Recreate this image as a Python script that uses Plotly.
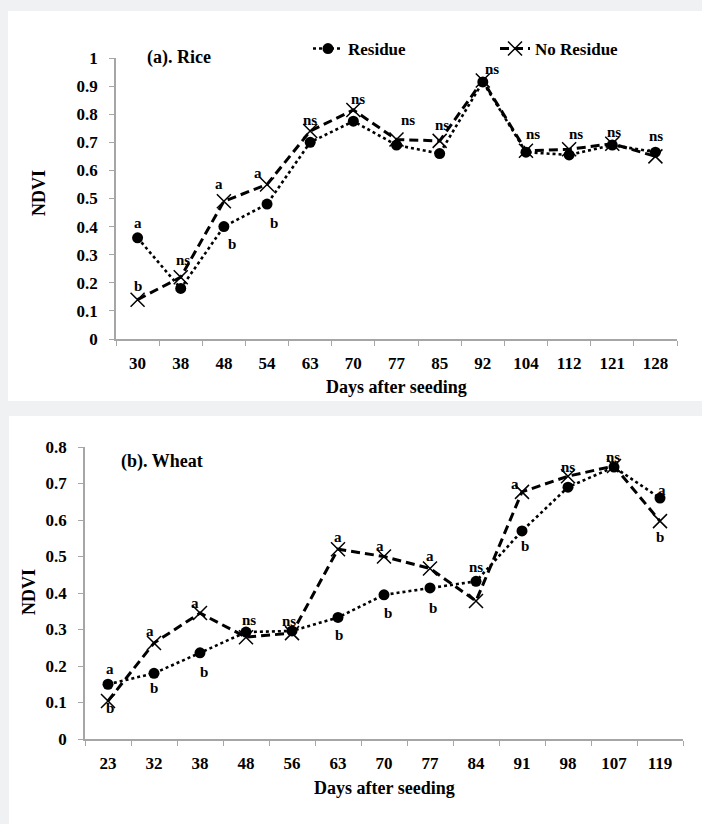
import plotly.graph_objects as go

# ---------------- data ----------------
rice_days = ["30", "38", "48", "54", "63", "70", "77", "85", "92", "104", "112", "121", "128"]
rice_residue = [0.36, 0.18, 0.40, 0.48, 0.70, 0.775, 0.69, 0.66, 0.915, 0.665, 0.655, 0.69, 0.665]
rice_no_residue = [0.14, 0.22, 0.49, 0.55, 0.74, 0.815, 0.71, 0.705, 0.92, 0.67, 0.675, 0.695, 0.65]
rice_residue_letters = ["a", "", "b", "b", "", "", "", "", "", "", "", "", "ns"]
rice_no_residue_letters = ["b", "ns", "a", "a", "ns", "ns", "ns", "ns", "ns", "ns", "ns", "ns", ""]

wheat_days = ["23", "32", "38", "48", "56", "63", "70", "77", "84", "91", "98", "107", "119"]
wheat_residue = [0.15, 0.18, 0.236, 0.293, 0.296, 0.333, 0.395, 0.414, 0.432, 0.57, 0.69, 0.745, 0.66]
wheat_no_residue = [0.104, 0.263, 0.345, 0.279, 0.29, 0.52, 0.50, 0.467, 0.378, 0.677, 0.72, 0.748, 0.597]
wheat_residue_letters = ["a", "b", "b", "ns", "", "b", "b", "b", "ns", "b", "", "", "a"]
wheat_no_residue_letters = ["b", "a", "a", "", "ns", "a", "a", "a", "", "a", "ns", "ns", "b"]

rice_yticks = [0, 0.1, 0.2, 0.3, 0.4, 0.5, 0.6, 0.7, 0.8, 0.9, 1]
wheat_yticks = [0, 0.1, 0.2, 0.3, 0.4, 0.5, 0.6, 0.7, 0.8]

# ---------------- style ----------------
W, H = 702, 824
SERIF = "Liberation Serif"
AXC = "#a6a6a6"
BG = "#f0f1f3"

def px(xp):
    return xp / W

def py(yp):
    return 1 - yp / H

# letter offsets (dx, dy) in pixels, per point index, per series
rice_res_off = {0: (0, 15), 2: (8, -17), 3: (7, -19), 12: (1, 16)}
rice_nores_off = {0: (0, 14), 1: (2, 17), 2: (-5, 17), 3: (-9, 11), 4: (0, 11), 5: (5, 11),
                  6: (11, 19), 7: (2, 16), 8: (9, 11), 9: (7, 17), 10: (7, 15), 11: (2, 12)}
wheat_res_off = {0: (2, 15), 1: (0, -15), 2: (4, -19), 3: (3, 12), 5: (1, -18), 6: (4, -18),
                 7: (3, -20), 8: (0, 14), 9: (3, -15), 12: (2, 8)}
wheat_nores_off = {0: (2, -7), 1: (-4, 12), 2: (-5, 10), 4: (-3, 12), 5: (0, 12), 6: (-4, 11),
                   7: (0, 13), 9: (-7, 8), 10: (0, 9), 11: (-1, 9), 12: (0, -16)}

fig = go.Figure()

def add_series(xs, ys, name, xa, ya, kind, showlegend, legend):
    if kind == "res":
        line = dict(color="black", width=2.6, dash="3px,3px")
        marker = dict(symbol="circle", size=11, color="black")
    else:
        line = dict(color="black", width=3, dash="9px,5px")
        marker = dict(symbol="x-thin", size=14, color="black",
                      line=dict(color="black", width=1.5))
    fig.add_trace(go.Scatter(x=xs, y=ys, name=name, mode="lines+markers",
                             line=line, marker=marker, xaxis=xa, yaxis=ya,
                             showlegend=showlegend, legend=legend))

add_series(rice_days, rice_residue, "Residue", "x", "y", "res", True, "legend")
add_series(rice_days, rice_no_residue, "No Residue", "x", "y", "nores", True, "legend2")
add_series(wheat_days, wheat_residue, "Residue", "x2", "y2", "res", False, "legend")
add_series(wheat_days, wheat_no_residue, "No Residue", "x2", "y2", "nores", False, "legend2")

annotations = []

def add_letters(ys, letters, offs, xref, yref):
    # on a category axis, annotation x is the category's serial index
    for i, (yv, t) in enumerate(zip(ys, letters)):
        if not t:
            continue
        dx, dy = offs.get(i, (0, 12))
        annotations.append(dict(x=i, y=yv, xref=xref, yref=yref, text=t, showarrow=False,
                                xshift=dx, yshift=dy, xanchor="center", yanchor="middle",
                                font=dict(family=SERIF, size=15, color="black", weight="bold")))

add_letters(rice_residue, rice_residue_letters, rice_res_off, "x", "y")
add_letters(rice_no_residue, rice_no_residue_letters, rice_nores_off, "x", "y")
add_letters(wheat_residue, wheat_residue_letters, wheat_res_off, "x2", "y2")
add_letters(wheat_no_residue, wheat_no_residue_letters, wheat_nores_off, "x2", "y2")

def txt(text, x, y, size, angle=0):
    annotations.append(dict(x=px(x), y=py(y), xref="paper", yref="paper", text=text,
                            showarrow=False, xanchor="center", yanchor="middle", textangle=angle,
                            font=dict(family=SERIF, size=size, color="black", weight="bold")))

txt("(a). Rice", 179, 58, 18)
txt("(b). Wheat", 162, 461, 18)
txt("NDVI", 39, 193, 18, -90)
txt("NDVI", 29, 592, 18, -90)
txt("Days after seeding", 396, 387, 18)
txt("Days after seeding", 384, 788, 18)

tickfont = dict(family=SERIF, size=17, color="black", weight="bold")

def xaxis(domain, anchor, n):
    return dict(domain=domain, anchor=anchor, type="category", range=[-0.5, n - 0.5],
                showline=True, linecolor=AXC, tickangle=0, automargin=False,
                linewidth=1.5, ticks="outside", ticklen=5, tickcolor=AXC, tickwidth=1.2,
                tickson="boundaries", showgrid=False, zeroline=False, tickfont=tickfont,
                ticklabelstandoff=8, fixedrange=True)

def yaxis(domain, anchor, rng, tv):
    return dict(domain=domain, anchor=anchor, range=rng, tickvals=tv, automargin=False,
                ticktext=[f"{v:g}" for v in tv], showline=True, linecolor=AXC,
                linewidth=1.5, ticks="outside", ticklen=5, tickcolor=AXC, tickwidth=1.2,
                showgrid=False, zeroline=False, tickfont=tickfont, ticklabelstandoff=8,
                fixedrange=True)

legfont = dict(family=SERIF, size=17, color="black", weight="bold")

fig.update_layout(
    width=W, height=H, autosize=False,
    margin=dict(l=0, r=0, t=0, b=0, pad=0, autoexpand=False),
    paper_bgcolor=BG, plot_bgcolor="white",
    xaxis=xaxis([px(116), px(677)], "y", len(rice_days)),
    yaxis=yaxis([py(339), py(58)], "x", [0, 1], rice_yticks),
    xaxis2=xaxis([px(85), px(683)], "y2", len(wheat_days)),
    yaxis2=yaxis([py(739), py(447)], "x2", [0, 0.8], wheat_yticks),
    legend=dict(x=px(308), y=py(49), xanchor="left", yanchor="middle", orientation="h",
                bgcolor="rgba(0,0,0,0)", font=legfont, itemwidth=30),
    legend2=dict(x=px(495), y=py(49), xanchor="left", yanchor="middle", orientation="h",
                 bgcolor="rgba(0,0,0,0)", font=legfont, itemwidth=30),
    annotations=annotations,
    shapes=[
        dict(type="rect", xref="paper", yref="paper", x0=px(8), x1=1, y0=py(401), y1=py(11),
             fillcolor="white", line=dict(width=0), layer="below"),
        dict(type="rect", xref="paper", yref="paper", x0=px(9), x1=1, y0=0, y1=py(416),
             fillcolor="white", line=dict(width=0), layer="below"),
    ],
)

fig.write_html("out.html", config={"displayModeBar": False},
               post_script="document.body.style.margin='0';document.body.style.overflow='hidden';")
